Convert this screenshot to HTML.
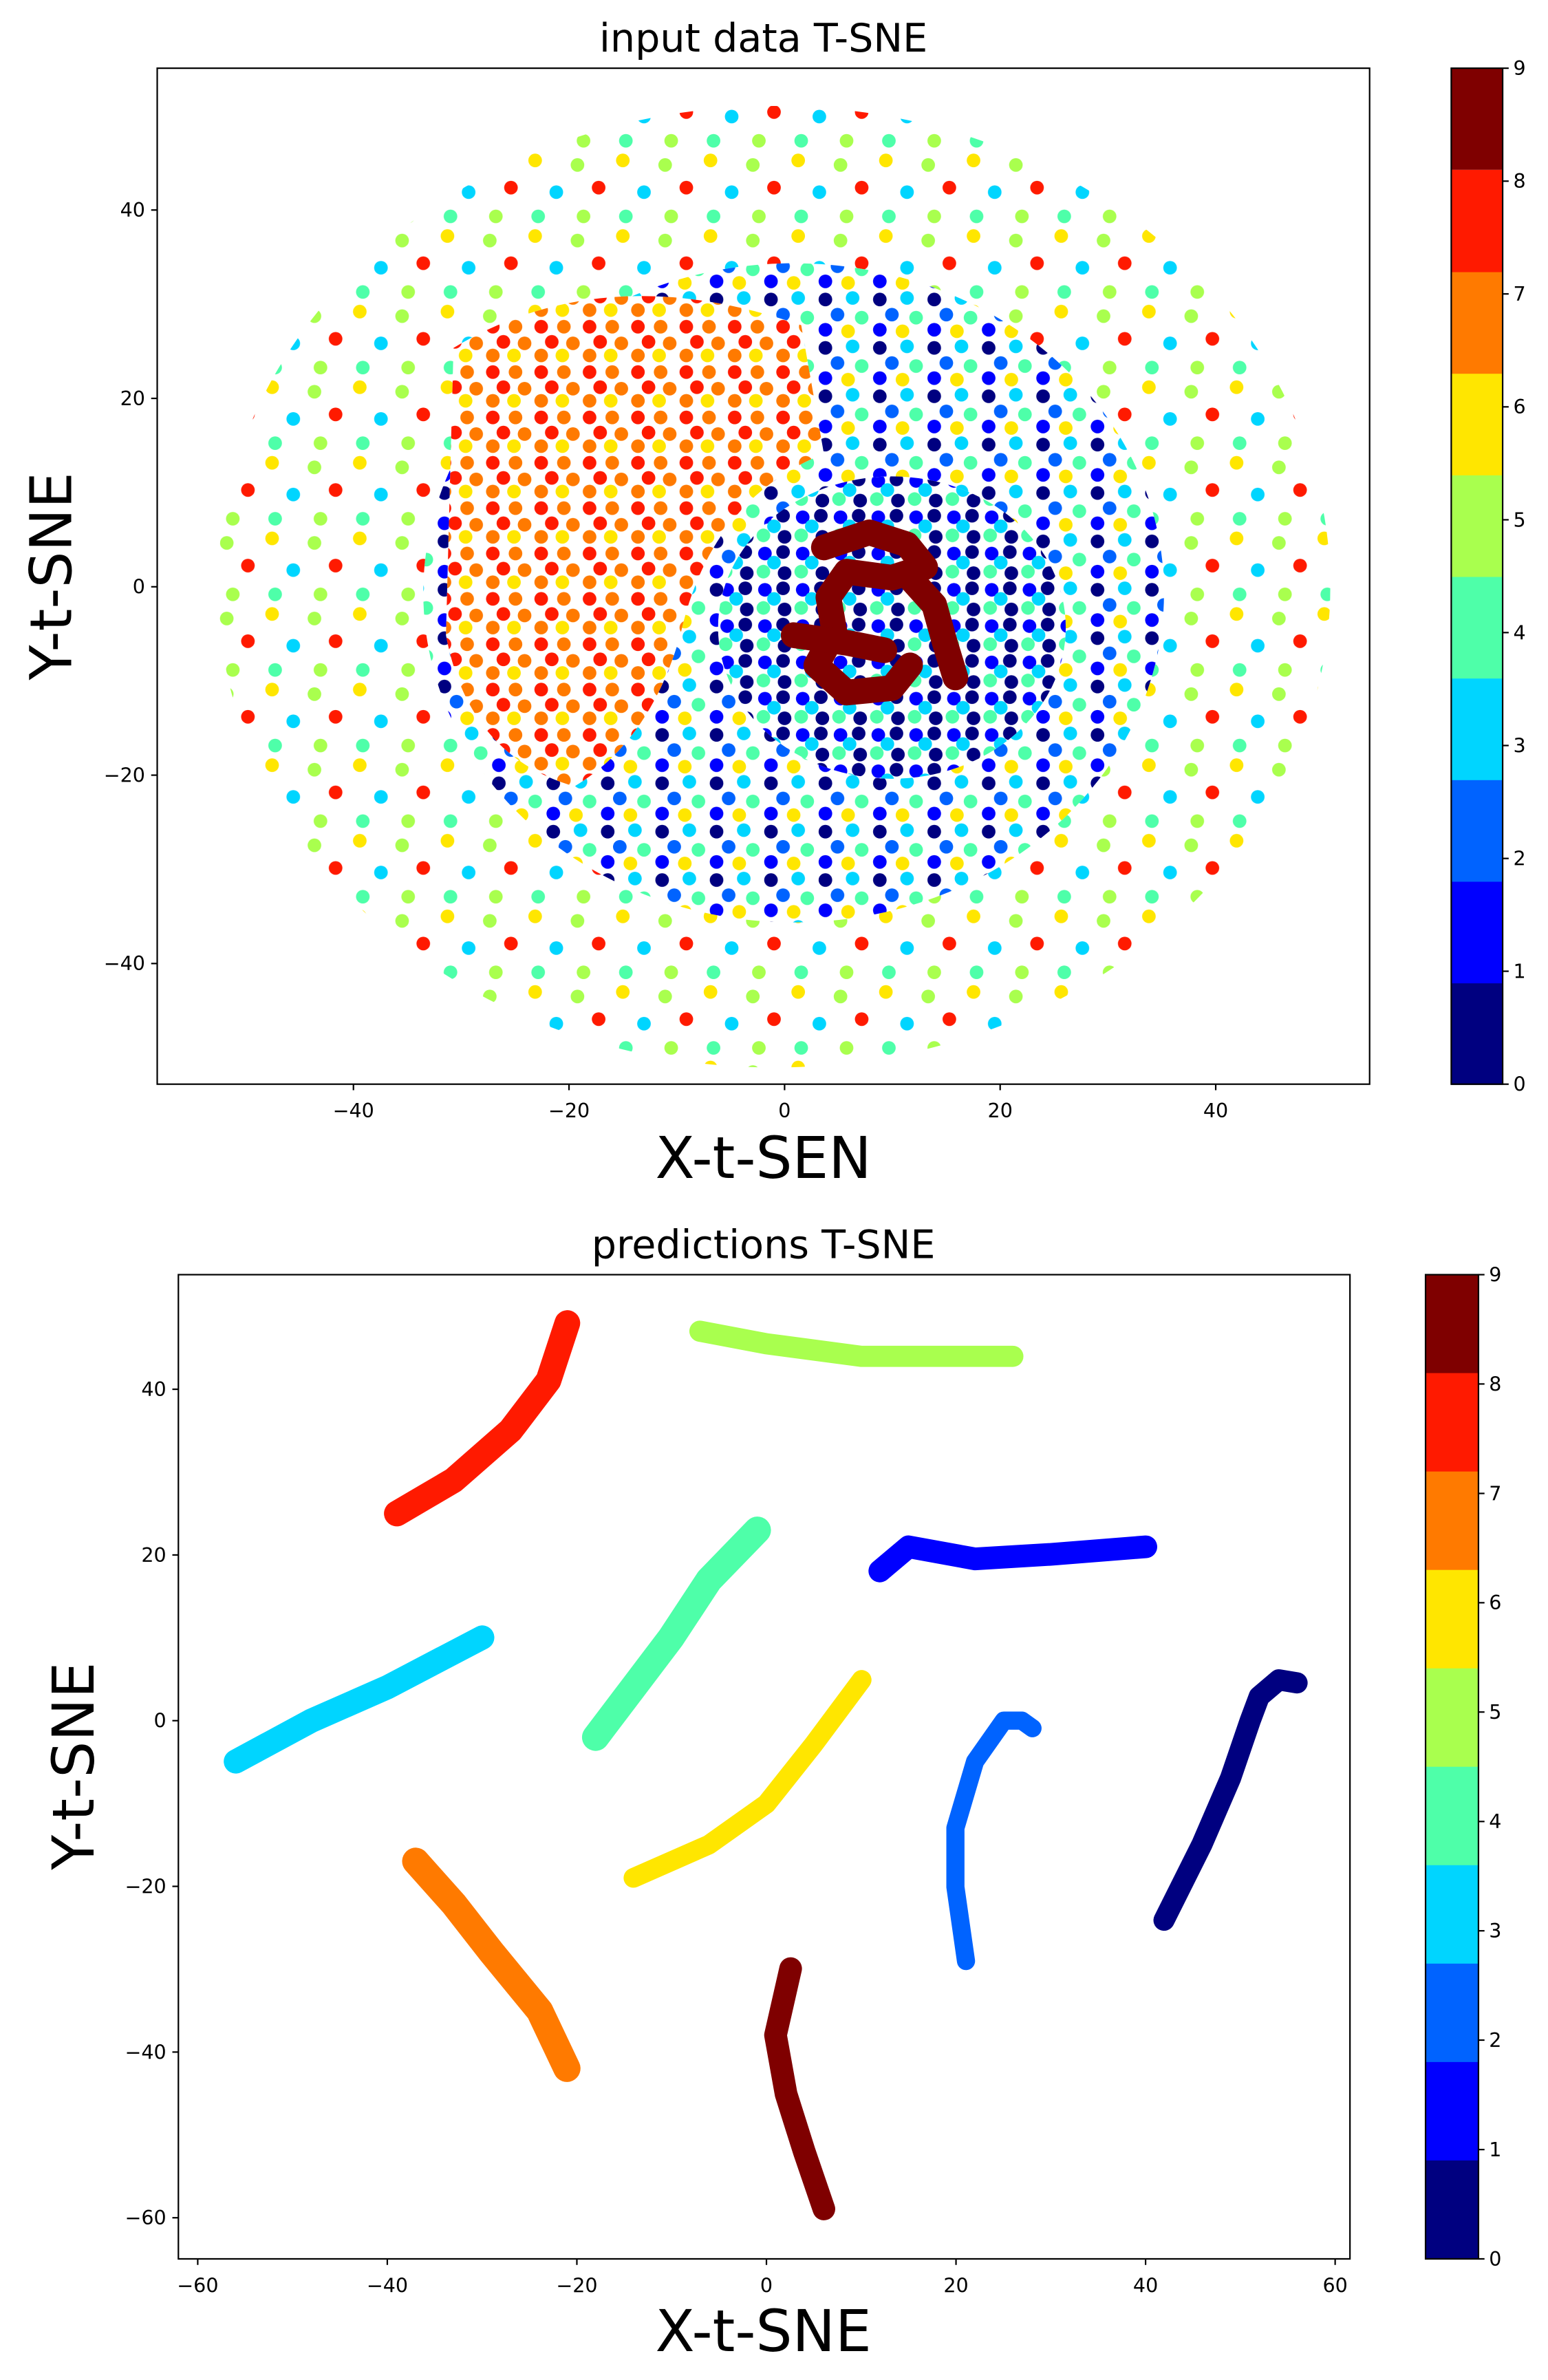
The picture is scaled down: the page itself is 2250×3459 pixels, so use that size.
<!DOCTYPE html>
<html><head><meta charset="utf-8">
<style>
html,body{margin:0;padding:0;background:#fff;}
svg{display:block;}
text{font-family:"DejaVu Sans","Liberation Sans",sans-serif;fill:#000;}
</style></head>
<body>
<svg xmlns="http://www.w3.org/2000/svg" width="2250" height="3459" viewBox="0 0 1024 1574">
<defs>
<pattern id="pA" patternUnits="userSpaceOnUse" width="58" height="50">
<circle cx="6" cy="6" r="4.5" fill="#ffe600"/><circle cx="34" cy="9" r="4.5" fill="#a9ff4e"/>
<circle cx="20" cy="27" r="4.5" fill="#00d5ff"/><circle cx="48" cy="24" r="4.5" fill="#ff1a00"/>
<circle cx="8" cy="43" r="4.5" fill="#4effa9"/><circle cx="38" cy="43" r="4.5" fill="#a9ff4e"/>
</pattern>
<pattern id="pB" patternUnits="userSpaceOnUse" width="36" height="32">
<circle cx="6" cy="6" r="4.5" fill="#000080"/><circle cx="24" cy="5" r="4.5" fill="#00d5ff"/>
<circle cx="14" cy="16" r="4.5" fill="#0063ff"/><circle cx="30" cy="18" r="4.5" fill="#4effa9"/>
<circle cx="6" cy="26" r="4.5" fill="#0000ff"/><circle cx="21" cy="27" r="4.5" fill="#ffe600"/>
</pattern>
<pattern id="pC" patternUnits="userSpaceOnUse" width="32" height="30">
<circle cx="6" cy="6" r="4.5" fill="#ff1a00"/><circle cx="21" cy="6" r="4.5" fill="#ff7a00"/>
<circle cx="13" cy="16" r="4.5" fill="#ff1a00"/><circle cx="27" cy="17" r="4.5" fill="#ff7a00"/>
<circle cx="6" cy="25" r="4.5" fill="#ff7a00"/><circle cx="20" cy="25" r="4.5" fill="#ffe600"/>
</pattern>
<pattern id="pD" patternUnits="userSpaceOnUse" width="25" height="24">
<circle cx="6" cy="6" r="4.5" fill="#0000ff"/><circle cx="18" cy="5" r="4.5" fill="#000080"/>
<circle cx="12" cy="12" r="4.5" fill="#00d5ff"/>
<circle cx="5" cy="18" r="4.5" fill="#4effa9"/><circle cx="19" cy="19" r="4.5" fill="#000080"/>
</pattern>
</defs>
<rect width="1024" height="1574" fill="#fff"/>

<!-- TOP scatter -->
<ellipse cx="512" cy="388" rx="368" ry="318" fill="url(#pA)"/>
<ellipse cx="525" cy="392" rx="245" ry="218" fill="#fff"/>
<ellipse cx="525" cy="392" rx="245" ry="218" fill="url(#pB)"/>
<path d="M300,230 Q400,170 530,215 L545,300 Q470,330 450,420 Q430,490 380,520 Q310,500 295,420 Z" fill="#fff"/>
<path d="M300,230 Q400,170 530,215 L545,300 Q470,330 450,420 Q430,490 380,520 Q310,500 295,420 Z" fill="url(#pC)"/>
<ellipse cx="590" cy="415" rx="115" ry="100" fill="#fff"/>
<ellipse cx="590" cy="415" rx="115" ry="100" fill="url(#pD)"/>
<g fill="none" stroke="#7f0000" stroke-width="17" stroke-linecap="round" stroke-linejoin="round">
<path d="M545,362 L575,352 L600,360 L612,375 L590,382 L560,378 L548,395 L552,418 L540,440 L560,458 L590,455 L602,440"/>
<path d="M600,380 L618,400 L625,425 L632,448"/>
<path d="M525,420 L560,425 L585,430"/>
</g>

<!-- BOTTOM clusters -->
<g fill="none" stroke-linecap="round" stroke-linejoin="round">
<polyline stroke="#ff1a00" stroke-width="17" points="262.5,1001 300,979 337.7,946 362.8,913 375.3,875"/>
<polyline stroke="#a9ff4e" stroke-width="14" points="463,880.4 507,888.7 569.7,897 619.9,897 670,897"/>
<polyline stroke="#0000ff" stroke-width="15" points="582,1039 601,1023 645,1031 695,1028 758,1023"/>
<polyline stroke="#4effa9" stroke-width="18" points="394,1149 419,1116 444,1083 469,1045 501,1012"/>
<polyline stroke="#00d5ff" stroke-width="16" points="156,1165 206,1138 256,1116 319,1083"/>
<polyline stroke="#ffe600" stroke-width="13" points="419,1242 469,1220 507,1193 538,1154 570,1111"/>
<polyline stroke="#0063ff" stroke-width="12" points="639,1297 632,1248 632,1209 645,1165 664,1138 676,1138 683,1143"/>
<polyline stroke="#000080" stroke-width="14" points="770,1270 795,1220 814,1176 827,1138 833,1122 846,1111 858,1113"/>
<polyline stroke="#ff7a00" stroke-width="18" points="275,1231 300,1259 325,1291 357,1330 375,1368"/>
<polyline stroke="#7f0000" stroke-width="15" points="523,1302 513,1346 520,1385 532,1423 545,1461"/>
</g>

<!-- TOP axes -->
<rect x="104" y="45" width="802" height="672" fill="none" stroke="#000" stroke-width="1"/>
<g stroke="#000">
<line x1="233.8" x2="233.8" y1="717" y2="721"/><line x1="376.4" x2="376.4" y1="717" y2="721"/><line x1="519" x2="519" y1="717" y2="721"/><line x1="661.6" x2="661.6" y1="717" y2="721"/><line x1="804.2" x2="804.2" y1="717" y2="721"/>
<line x1="100" x2="104" y1="138.8" y2="138.8"/><line x1="100" x2="104" y1="263.4" y2="263.4"/><line x1="100" x2="104" y1="388" y2="388"/><line x1="100" x2="104" y1="512.6" y2="512.6"/><line x1="100" x2="104" y1="637.2" y2="637.2"/>
</g>
<g font-size="13" text-anchor="middle">
<text x="233.8" y="739">−40</text><text x="376.4" y="739">−20</text><text x="519" y="739">0</text><text x="661.6" y="739">20</text><text x="804.2" y="739">40</text>
</g>
<g font-size="13" text-anchor="end">
<text x="96" y="143.3">40</text><text x="96" y="267.9">20</text><text x="96" y="392.5">0</text><text x="96" y="517.1">−20</text><text x="96" y="641.7">−40</text>
</g>
<text x="505" y="34" font-size="26" text-anchor="middle">input data T-SNE</text>
<text x="505" y="779" font-size="38" text-anchor="middle">X-t-SEN</text>
<text transform="translate(47,381) rotate(-90)" font-size="38" text-anchor="middle">Y-t-SNE</text>

<!-- TOP colorbar -->
<g>
<rect x="960" y="649.8" width="34" height="67.7" fill="#000080"/>
<rect x="960" y="582.6" width="34" height="67.7" fill="#0000ff"/>
<rect x="960" y="515.4" width="34" height="67.7" fill="#0063ff"/>
<rect x="960" y="448.2" width="34" height="67.7" fill="#00d5ff"/>
<rect x="960" y="381" width="34" height="67.7" fill="#4effa9"/>
<rect x="960" y="313.8" width="34" height="67.7" fill="#a9ff4e"/>
<rect x="960" y="246.6" width="34" height="67.7" fill="#ffe600"/>
<rect x="960" y="179.4" width="34" height="67.7" fill="#ff7a00"/>
<rect x="960" y="112.2" width="34" height="67.7" fill="#ff1a00"/>
<rect x="960" y="45" width="34" height="67.2" fill="#7f0000"/>
<rect x="960" y="45" width="34" height="672" fill="none" stroke="#000"/>
</g>
<g stroke="#000">
<line x1="994" x2="998" y1="717" y2="717"/><line x1="994" x2="998" y1="642.3" y2="642.3"/><line x1="994" x2="998" y1="567.7" y2="567.7"/><line x1="994" x2="998" y1="493" y2="493"/><line x1="994" x2="998" y1="418.3" y2="418.3"/><line x1="994" x2="998" y1="343.7" y2="343.7"/><line x1="994" x2="998" y1="269" y2="269"/><line x1="994" x2="998" y1="194.3" y2="194.3"/><line x1="994" x2="998" y1="119.7" y2="119.7"/><line x1="994" x2="998" y1="45" y2="45"/>
</g>
<g font-size="13">
<text x="1001" y="721.5">0</text><text x="1001" y="646.8">1</text><text x="1001" y="572.2">2</text><text x="1001" y="497.5">3</text><text x="1001" y="422.8">4</text><text x="1001" y="348.2">5</text><text x="1001" y="273.5">6</text><text x="1001" y="198.8">7</text><text x="1001" y="124.2">8</text><text x="1001" y="49.5">9</text>
</g>

<!-- BOTTOM axes -->
<rect x="118" y="843" width="775" height="651" fill="none" stroke="#000" stroke-width="1"/>
<g stroke="#000">
<line x1="130.8" x2="130.8" y1="1494" y2="1498"/><line x1="256.2" x2="256.2" y1="1494" y2="1498"/><line x1="381.6" x2="381.6" y1="1494" y2="1498"/><line x1="507" x2="507" y1="1494" y2="1498"/><line x1="632.4" x2="632.4" y1="1494" y2="1498"/><line x1="757.8" x2="757.8" y1="1494" y2="1498"/><line x1="883.2" x2="883.2" y1="1494" y2="1498"/>
<line x1="114" x2="118" y1="918.8" y2="918.8"/><line x1="114" x2="118" y1="1028.4" y2="1028.4"/><line x1="114" x2="118" y1="1138" y2="1138"/><line x1="114" x2="118" y1="1247.6" y2="1247.6"/><line x1="114" x2="118" y1="1357.2" y2="1357.2"/><line x1="114" x2="118" y1="1466.8" y2="1466.8"/>
</g>
<g font-size="13" text-anchor="middle">
<text x="130.8" y="1516">−60</text><text x="256.2" y="1516">−40</text><text x="381.6" y="1516">−20</text><text x="507" y="1516">0</text><text x="632.4" y="1516">20</text><text x="757.8" y="1516">40</text><text x="883.2" y="1516">60</text>
</g>
<g font-size="13" text-anchor="end">
<text x="110" y="923.3">40</text><text x="110" y="1032.9">20</text><text x="110" y="1142.5">0</text><text x="110" y="1252.1">−20</text><text x="110" y="1361.7">−40</text><text x="110" y="1471.3">−60</text>
</g>
<text x="505" y="832" font-size="26" text-anchor="middle">predictions T-SNE</text>
<text x="505" y="1555" font-size="38" text-anchor="middle">X-t-SNE</text>
<text transform="translate(62,1168) rotate(-90)" font-size="38" text-anchor="middle">Y-t-SNE</text>

<!-- BOTTOM colorbar -->
<g>
<rect x="943" y="1428.4" width="35" height="65.6" fill="#000080"/>
<rect x="943" y="1363.3" width="35" height="65.6" fill="#0000ff"/>
<rect x="943" y="1298.2" width="35" height="65.6" fill="#0063ff"/>
<rect x="943" y="1233.1" width="35" height="65.6" fill="#00d5ff"/>
<rect x="943" y="1168" width="35" height="65.6" fill="#4effa9"/>
<rect x="943" y="1102.9" width="35" height="65.6" fill="#a9ff4e"/>
<rect x="943" y="1037.8" width="35" height="65.6" fill="#ffe600"/>
<rect x="943" y="972.7" width="35" height="65.6" fill="#ff7a00"/>
<rect x="943" y="907.6" width="35" height="65.6" fill="#ff1a00"/>
<rect x="943" y="843" width="35" height="65.1" fill="#7f0000"/>
<rect x="943" y="843" width="35" height="651" fill="none" stroke="#000"/>
</g>
<g stroke="#000">
<line x1="978" x2="982" y1="1494" y2="1494"/><line x1="978" x2="982" y1="1421.7" y2="1421.7"/><line x1="978" x2="982" y1="1349.3" y2="1349.3"/><line x1="978" x2="982" y1="1277" y2="1277"/><line x1="978" x2="982" y1="1204.7" y2="1204.7"/><line x1="978" x2="982" y1="1132.3" y2="1132.3"/><line x1="978" x2="982" y1="1060" y2="1060"/><line x1="978" x2="982" y1="987.7" y2="987.7"/><line x1="978" x2="982" y1="915.3" y2="915.3"/><line x1="978" x2="982" y1="843" y2="843"/>
</g>
<g font-size="13">
<text x="985" y="1498.5">0</text><text x="985" y="1426.2">1</text><text x="985" y="1353.8">2</text><text x="985" y="1281.5">3</text><text x="985" y="1209.2">4</text><text x="985" y="1136.8">5</text><text x="985" y="1064.5">6</text><text x="985" y="992.2">7</text><text x="985" y="919.8">8</text><text x="985" y="847.5">9</text>
</g>
</svg>
</body></html>
